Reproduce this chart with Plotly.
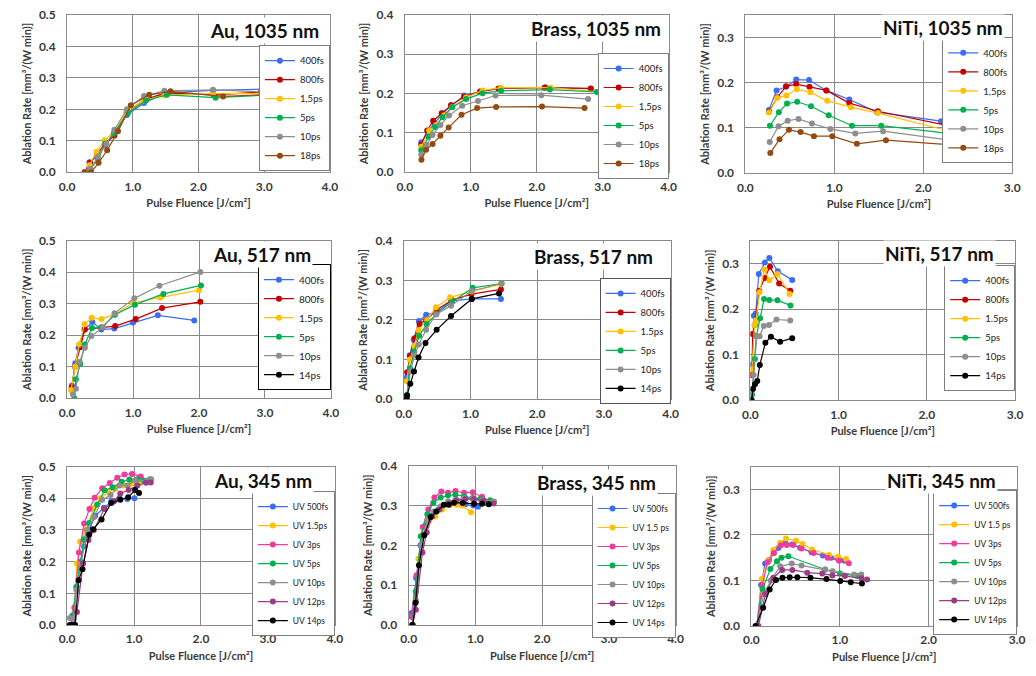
import plotly.graph_objects as go

# ---------------- data ----------------
LABELS_1035 = ["400fs", "800fs", "1,5ps", "5ps", "10ps", "18ps"]
LABELS_517 = ["400fs", "800fs", "1.5ps", "5ps", "10ps", "14ps"]
LABELS_AU345 = ["UV 500fs", "UV 1.5ps", "UV 3ps", "UV 5ps", "UV 10ps", "UV 12ps", "UV 14ps"]
LABELS_345 = ["UV 500fs", "UV 1.5 ps", "UV 3ps", "UV 5ps", "UV 10ps", "UV 12ps", "UV 14ps"]

# Au, 1035 nm
AU1035_X = [
    [0.27, 0.34, 0.46, 0.58, 0.72, 0.91, 1.17, 1.5, 2.22, 2.97],
    [0.27, 0.35, 0.46, 0.58, 0.72, 0.91, 1.17, 1.5, 2.23, 2.95],
    [0.28, 0.34, 0.45, 0.57, 0.72, 0.9, 1.16, 1.48, 2.22, 2.97],
    [0.3, 0.35, 0.47, 0.58, 0.71, 0.93, 1.2, 1.52, 2.26, 3.03],
    [0.3, 0.36, 0.47, 0.6, 0.72, 0.91, 1.17, 1.48, 2.22, 2.97],
    [0.265, 0.365, 0.48, 0.61, 0.775, 0.97, 1.25, 1.575, 2.375, 3.16],
]
AU1035_Y = [
    [0.0, 0.032, 0.05, 0.085, 0.125, 0.182, 0.22, 0.252, 0.26, 0.264],
    [0.0, 0.03, 0.06, 0.09, 0.117, 0.19, 0.23, 0.252, 0.246, 0.255],
    [0.0, 0.022, 0.065, 0.102, 0.13, 0.19, 0.228, 0.245, 0.25, 0.25],
    [0.0, 0.01, 0.04, 0.091, 0.122, 0.19, 0.228, 0.246, 0.237, 0.245],
    [0.0, 0.01, 0.05, 0.09, 0.135, 0.2, 0.242, 0.259, 0.262, 0.255],
    [0.0, 0.0, 0.03, 0.07, 0.13, 0.213, 0.246, 0.257, 0.241, 0.248],
]

# Brass, 1035 nm
BRASS1035_X = [
    [0.25, 0.36, 0.45, 0.58, 0.71, 0.9, 1.15, 1.45, 2.13, 2.82],
    [0.25, 0.34, 0.43, 0.56, 0.7, 0.9, 1.14, 1.42, 2.12, 2.82],
    [0.25, 0.37, 0.48, 0.6, 0.72, 0.93, 1.18, 1.46, 2.21, 2.96],
    [0.25, 0.36, 0.46, 0.57, 0.72, 0.93, 1.18, 1.46, 2.2, 2.91],
    [0.25, 0.33, 0.42, 0.54, 0.67, 0.87, 1.11, 1.375, 2.07, 2.78],
    [0.253, 0.323, 0.422, 0.54, 0.665, 0.86, 1.097, 1.385, 2.08, 2.725],
]
BRASS1035_Y = [
    [0.076, 0.105, 0.125, 0.15, 0.17, 0.195, 0.205, 0.213, 0.216, 0.212],
    [0.07, 0.106, 0.131, 0.15, 0.17, 0.192, 0.205, 0.213, 0.215, 0.213],
    [0.065, 0.106, 0.12, 0.145, 0.165, 0.19, 0.208, 0.215, 0.215, 0.204],
    [0.056, 0.09, 0.115, 0.14, 0.165, 0.186, 0.201, 0.207, 0.21, 0.204],
    [0.045, 0.07, 0.095, 0.12, 0.144, 0.169, 0.181, 0.195, 0.196, 0.186],
    [0.032, 0.057, 0.072, 0.093, 0.114, 0.146, 0.163, 0.166, 0.167, 0.163],
]

# NiTi, 1035 nm
NITI1035_X = [
    [0.265, 0.35, 0.457, 0.571, 0.715, 0.91, 1.168, 1.48, 2.2],
    [0.265, 0.36, 0.457, 0.571, 0.72, 0.91, 1.168, 1.49, 2.24],
    [0.265, 0.357, 0.46, 0.578, 0.73, 0.92, 1.187, 1.49, 2.255],
    [0.276, 0.376, 0.468, 0.582, 0.737, 0.936, 1.198, 1.526, 2.285],
    [0.273, 0.372, 0.475, 0.597, 0.748, 0.955, 1.235, 1.548, 2.337],
    [0.28, 0.383, 0.49, 0.62, 0.77, 0.977, 1.253, 1.58, 2.36],
]
NITI1035_Y = [
    [0.14, 0.183, 0.191, 0.207, 0.206, 0.183, 0.163, 0.135, 0.115],
    [0.136, 0.168, 0.192, 0.197, 0.191, 0.183, 0.155, 0.137, 0.107],
    [0.134, 0.166, 0.172, 0.186, 0.179, 0.16, 0.146, 0.133, 0.095],
    [0.105, 0.135, 0.154, 0.158, 0.148, 0.128, 0.105, 0.105, 0.088],
    [0.069, 0.104, 0.116, 0.12, 0.11, 0.098, 0.088, 0.093, 0.072],
    [0.045, 0.075, 0.096, 0.091, 0.082, 0.082, 0.065, 0.073, 0.062],
]

# Au, 517 nm (the 14ps series has no visible points, only a legend entry)
AU517_X = [
    [0.075, 0.124, 0.174, 0.264, 0.383, 0.52, 0.715, 1.0, 1.376, 1.928],
    [0.07, 0.12, 0.2, 0.27, 0.52, 0.73, 1.04, 1.44, 2.02],
    [0.06, 0.124, 0.184, 0.264, 0.373, 0.522, 0.72, 1.0, 1.416, 2.0],
    [0.11, 0.134, 0.2, 0.268, 0.378, 0.52, 0.725, 1.03, 1.46, 2.03],
    [0.09, 0.134, 0.19, 0.27, 0.368, 0.546, 0.72, 1.02, 1.4, 2.02],
    [None],
]
AU517_Y = [
    [0.04, 0.111, 0.16, 0.218, 0.242, 0.218, 0.221, 0.24, 0.263, 0.247],
    [0.035, 0.1, 0.162, 0.218, 0.224, 0.229, 0.251, 0.286, 0.306],
    [0.026, 0.1, 0.171, 0.235, 0.255, 0.251, 0.266, 0.303, 0.32, 0.343],
    [0.0, 0.06, 0.109, 0.17, 0.223, 0.224, 0.265, 0.297, 0.331, 0.358],
    [0.012, 0.03, 0.115, 0.16, 0.197, 0.225, 0.27, 0.317, 0.357, 0.401],
    [None],
]

# Brass, 517 nm
BRASS517_X = [
    [0.044, 0.089, 0.148, 0.226, 0.335, 0.49, 0.71, 1.02, 1.456],
    [0.05, 0.094, 0.162, 0.236, 0.335, 0.49, 0.72, 1.014, 1.456],
    [0.044, 0.089, 0.16, 0.221, 0.35, 0.482, 0.694, 1.02, 1.456],
    [0.045, 0.093, 0.157, 0.231, 0.344, 0.49, 0.72, 1.033, 1.466],
    [0.045, 0.1, 0.16, 0.226, 0.335, 0.482, 0.708, 1.02, 1.466],
    [0.045, 0.05, 0.098, 0.153, 0.221, 0.325, 0.492, 0.708, 1.02, 1.427],
]
BRASS517_Y = [
    [0.055, 0.111, 0.15, 0.197, 0.213, 0.219, 0.248, 0.253, 0.253],
    [0.068, 0.108, 0.154, 0.19, 0.2, 0.225, 0.25, 0.265, 0.277],
    [0.045, 0.1, 0.135, 0.174, 0.2, 0.232, 0.257, 0.272, 0.29],
    [0.01, 0.078, 0.12, 0.16, 0.19, 0.215, 0.245, 0.281, 0.292],
    [0.005, 0.07, 0.11, 0.138, 0.175, 0.214, 0.236, 0.273, 0.292],
    [0.0, 0.01, 0.039, 0.07, 0.105, 0.142, 0.175, 0.21, 0.253, 0.267],
]

# NiTi, 517 nm
NITI517_X = [
    [0.022, 0.04, 0.06, 0.096, 0.163, 0.215, 0.311, 0.474],
    [0.018, 0.026, 0.05, 0.1, 0.163, 0.222, 0.326, 0.452],
    [0.018, 0.048, 0.065, 0.104, 0.159, 0.215, 0.307, 0.444],
    [0.018, 0.052, 0.067, 0.111, 0.155, 0.215, 0.307, 0.455],
    [0.018, 0.037, 0.074, 0.104, 0.152, 0.211, 0.296, 0.452],
    [0.015, 0.03, 0.052, 0.078, 0.107, 0.17, 0.233, 0.337, 0.474],
]
NITI517_Y = [
    [0.078, 0.185, 0.19, 0.277, 0.302, 0.312, 0.283, 0.264],
    [0.055, 0.145, 0.165, 0.24, 0.268, 0.293, 0.256, 0.24],
    [0.068, 0.165, 0.175, 0.237, 0.287, 0.263, 0.277, 0.233],
    [0.012, 0.09, 0.14, 0.18, 0.222, 0.22, 0.219, 0.208],
    [0.02, 0.055, 0.14, 0.14, 0.163, 0.165, 0.177, 0.175],
    [0.0, 0.025, 0.035, 0.042, 0.077, 0.126, 0.139, 0.128, 0.136],
]

# Au, 345 nm
AU345_X = [
    [0.05, 0.08, 0.14, 0.2, 0.255, 0.33, 0.42, 0.55, 0.66, 0.785, 0.9, 1.006],
    [0.06, 0.11, 0.147, 0.196, 0.28, 0.4, 0.5, 0.62, 0.72, 0.83, 0.95, 1.07],
    [0.06, 0.108, 0.177, 0.255, 0.334, 0.412, 0.525, 0.637, 0.75, 0.858, 0.97, 1.1, 1.2],
    [0.06, 0.14, 0.25, 0.33, 0.45, 0.56, 0.68, 0.815, 0.93, 1.05, 1.15, 1.24],
    [0.04, 0.1, 0.14, 0.2, 0.3, 0.4, 0.525, 0.65, 0.78, 0.9, 1.016, 1.2, 1.256],
    [0.1, 0.147, 0.24, 0.32, 0.4, 0.555, 0.7, 0.795, 0.92, 1.05, 1.18, 1.25],
    [0.04, 0.07, 0.1, 0.12, 0.172, 0.23, 0.33, 0.39, 0.515, 0.66, 0.795, 0.913, 1.016, 1.075],
]
AU345_Y = [
    [0.0, 0.03, 0.12, 0.2, 0.248, 0.3, 0.345, 0.37, 0.39, 0.4, 0.398, 0.4],
    [0.0, 0.04, 0.194, 0.263, 0.3, 0.369, 0.4, 0.42, 0.43, 0.44, 0.445, 0.448],
    [0.0, 0.055, 0.229, 0.32, 0.366, 0.402, 0.432, 0.448, 0.465, 0.475, 0.477, 0.469, 0.455],
    [0.0, 0.12, 0.27, 0.322, 0.38, 0.425, 0.435, 0.452, 0.459, 0.46, 0.455, 0.46],
    [0.022, 0.02, 0.11, 0.18, 0.3, 0.34, 0.395, 0.41, 0.44, 0.44, 0.457, 0.455, 0.46],
    [0.0, 0.041, 0.194, 0.268, 0.3, 0.366, 0.39, 0.415, 0.426, 0.44, 0.449, 0.45],
    [0.0, 0.0, 0.0, 0.0, 0.141, 0.176, 0.285, 0.302, 0.333, 0.385, 0.395, 0.403, 0.426, 0.417],
]

# Brass, 345 nm
BRASS345_X = [
    [0.045, 0.11, 0.176, 0.25, 0.33, 0.45, 0.58, 0.7, 0.85, 0.97, 1.04],
    [0.05, 0.1, 0.145, 0.22, 0.31, 0.4, 0.5, 0.62, 0.72, 0.8, 0.935],
    [0.044, 0.118, 0.21, 0.294, 0.385, 0.49, 0.59, 0.7, 0.83, 0.96, 1.1, 1.274],
    [0.05, 0.105, 0.18, 0.28, 0.37, 0.48, 0.588, 0.7, 0.83, 0.96, 1.07, 1.22],
    [0.05, 0.11, 0.19, 0.28, 0.38, 0.48, 0.59, 0.7, 0.83, 0.96, 1.1, 1.28],
    [0.05, 0.108, 0.206, 0.27, 0.35, 0.46, 0.6, 0.72, 0.85, 0.98, 1.12, 1.27],
    [0.06, 0.103, 0.153, 0.232, 0.33, 0.414, 0.527, 0.6, 0.68, 0.81, 0.98, 1.1, 1.2],
]
BRASS345_Y = [
    [0.03, 0.118, 0.2, 0.25, 0.275, 0.29, 0.305, 0.308, 0.303, 0.3, 0.297],
    [0.0, 0.06, 0.166, 0.23, 0.262, 0.272, 0.29, 0.302, 0.302, 0.3, 0.283],
    [0.02, 0.125, 0.246, 0.29, 0.32, 0.335, 0.332, 0.336, 0.332, 0.333, 0.322, 0.307],
    [0.0, 0.084, 0.223, 0.278, 0.307, 0.32, 0.325, 0.327, 0.323, 0.319, 0.316, 0.313],
    [0.0, 0.06, 0.2, 0.265, 0.285, 0.298, 0.31, 0.314, 0.318, 0.316, 0.313, 0.31],
    [0.0, 0.038, 0.182, 0.232, 0.272, 0.29, 0.305, 0.313, 0.316, 0.316, 0.312, 0.305],
    [0.0, 0.056, 0.15, 0.225, 0.271, 0.285, 0.302, 0.302, 0.307, 0.306, 0.304, 0.304, 0.303],
]

# NiTi, 345 nm
NITI345_X = [
    [0.063, 0.11, 0.155, 0.2, 0.25, 0.304, 0.385, 0.46, 0.55, 0.68, 0.807, 0.9, 0.99, 1.05],
    [0.07, 0.118, 0.185, 0.248, 0.326, 0.39, 0.504, 0.578, 0.685, 0.878, 0.98, 1.07],
    [0.06, 0.122, 0.185, 0.255, 0.333, 0.4, 0.474, 0.567, 0.703, 0.863, 0.99, 1.1],
    [0.07, 0.126, 0.215, 0.289, 0.34, 0.418, 0.833, 1.0, 1.196],
    [0.06, 0.14, 0.22, 0.326, 0.456, 0.567, 0.833, 0.918, 1.159, 1.24],
    [0.08, 0.159, 0.248, 0.348, 0.463, 0.63, 0.8, 0.915, 1.056, 1.244, 1.307],
    [0.048, 0.133, 0.207, 0.278, 0.352, 0.433, 0.519, 0.667, 0.848, 1.003, 1.122, 1.248],
]
NITI345_Y = [
    [0.0, 0.09, 0.137, 0.145, 0.16, 0.171, 0.182, 0.179, 0.172, 0.162, 0.155, 0.15, 0.145, 0.143],
    [0.0, 0.103, 0.143, 0.167, 0.183, 0.192, 0.187, 0.18, 0.168, 0.156, 0.152, 0.147],
    [0.0, 0.09, 0.14, 0.16, 0.177, 0.178, 0.178, 0.17, 0.16, 0.15, 0.143, 0.138],
    [0.0, 0.081, 0.125, 0.142, 0.15, 0.153, 0.124, 0.115, 0.11],
    [0.0, 0.07, 0.1, 0.131, 0.137, 0.133, 0.124, 0.12, 0.113, 0.113],
    [0.0, 0.07, 0.106, 0.123, 0.123, 0.117, 0.115, 0.111, 0.11, 0.105, 0.102],
    [0.0, 0.04, 0.08, 0.101, 0.106, 0.107, 0.107, 0.106, 0.103, 0.099, 0.096, 0.093],
]

TITLES = ["Au, 1035 nm", "Brass, 1035 nm", "NiTi, 1035 nm",
          "Au, 517 nm", "Brass, 517 nm", "NiTi, 517 nm",
          "Au, 345 nm", "Brass, 345 nm", "NiTi, 345 nm"]

# ---------------- styles ----------------
BLUE, RED, YELLOW, GREEN = "#3C6CF2", "#C40000", "#FFC000", "#00B050"
GRAY, BROWN, BLACK = "#8E8E8E", "#944B12", "#000000"
PINK, PURPLE = "#F03A9E", "#9C3B86"
COLORS_1035 = [BLUE, RED, YELLOW, GREEN, GRAY, BROWN]
COLORS_517 = [BLUE, RED, YELLOW, GREEN, GRAY, BLACK]
COLORS_345 = [BLUE, YELLOW, PINK, GREEN, GRAY, PURPLE, BLACK]

W, H = 1036, 676
FONT = "Lato, 'Open Sans', sans-serif"

panels = [
    # data, labels, colors, plot box px (x0,x1,y0,y1), xmax, ymax, title pos (right, cy), legend pos (right, top), legend font, legend border
    (AU1035_X, AU1035_Y, LABELS_1035, COLORS_1035, (60, 327, 7, 168), 4, 0.5, (318, 23), (327, 38), 9.5, "#7f7f7f"),
    (BRASS1035_X, BRASS1035_Y, LABELS_1035, COLORS_1035, (403, 671, 7, 168), 4, 0.4, (665, 21), (671, 46), 9.5, "#7f7f7f"),
    (NITI1035_X, NITI1035_Y, LABELS_1035, COLORS_1035, (749, 1020, 7, 169), 3, 0.35, (1013, 20), (1021, 30), 9.5, "#7f7f7f"),
    (AU517_X, AU517_Y, LABELS_517, COLORS_517, (60, 328, 238, 399), 4, 0.5, (310, 252), (328, 262), 10, "#000000"),
    (BRASS517_X, BRASS517_Y, LABELS_517, COLORS_517, (402, 673, 238, 400), 4, 0.4, (657, 254), (673, 276), 9.5, "#555555"),
    (NITI517_X, NITI517_Y, LABELS_517, COLORS_517, (754, 1023, 238, 401), 3, 0.35, (1003, 251), (1023, 263), 9.5, "#7f7f7f"),
    (AU345_X, AU345_Y, LABELS_AU345, COLORS_345, (60, 332, 469, 631), 4, 0.5, (311, 483), (332, 494), 8.5, "#7f7f7f"),
    (BRASS345_X, BRASS345_Y, LABELS_345, COLORS_345, (407, 678, 468, 631), 4, 0.4, (660, 485), (678, 496), 8.5, "#7f7f7f"),
    (NITI345_X, NITI345_Y, LABELS_345, COLORS_345, (755, 1025, 469, 632), 3, 0.35, (1006, 483), (1025, 493), 8.5, "#7f7f7f"),
]

fig = go.Figure()
layout = dict(
    width=W, height=H, autosize=False,
    margin=dict(l=0, r=0, t=0, b=0),
    paper_bgcolor="white", plot_bgcolor="white",
    font=dict(family=FONT, color="#404040"),
    annotations=[],
)

AX_COLOR = "#8a8a8a"
for i, (xs, ys, labels, colors, box, xmax, ymax, tpos, lpos, lfs, lborder) in enumerate(panels):
    n = i + 1
    sfx = "" if n == 1 else str(n)
    legend_name = "legend" if n == 1 else f"legend{n}"
    for xv, yv, lab, col in zip(xs, ys, labels, colors):
        fig.add_trace(go.Scatter(
            x=xv, y=yv, name=lab, mode="lines+markers",
            line=dict(color=col, width=1.2),
            marker=dict(color=col, size=6),
            xaxis=f"x{sfx}", yaxis=f"y{sfx}",
            legend=legend_name, showlegend=True,
        ))
    x0, x1, y0, y1 = box
    layout[f"xaxis{sfx}"] = dict(
        domain=[x0 / W, x1 / W], anchor=f"y{sfx}",
        range=[0, xmax], dtick=1, tickformat=".1f",
        showgrid=True, gridcolor=AX_COLOR, gridwidth=1,
        showline=True, linecolor=AX_COLOR, linewidth=1, mirror=True,
        zeroline=False, ticks="", ticklabelstandoff=3,
        tickfont=dict(size=12, weight="bold", color="#3a3a3a"),
        title=dict(text="Pulse Fluence [J/cm²]", standoff=6,
                   font=dict(size=11, weight="bold", color="#3a3a3a")),
    )
    layout[f"yaxis{sfx}"] = dict(
        domain=[1 - y1 / H, 1 - y0 / H], anchor=f"x{sfx}",
        range=[0, ymax], dtick=0.1, tickformat=".1f",
        showgrid=True, gridcolor=AX_COLOR, gridwidth=1,
        showline=True, linecolor=AX_COLOR, linewidth=1, mirror=True,
        zeroline=False, ticks="", ticklabelstandoff=8,
        tickfont=dict(size=12, weight="bold", color="#3a3a3a"),
        title=dict(text="Ablation Rate [mm³/(W min)]", standoff=5,
                   font=dict(size=11, weight="bold", color="#3a3a3a")),
    )
    layout[legend_name] = dict(
        x=lpos[0] / W, y=1 - lpos[1] / H, xanchor="right", yanchor="top",
        xref="paper", yref="paper",
        bgcolor="white", bordercolor=lborder, borderwidth=1,
        font=dict(size=lfs, color="#222222", family=FONT),
        itemwidth=30, tracegroupgap=0,
    )
    layout["annotations"].append(dict(
        text=TITLES[i], xref="paper", yref="paper",
        x=tpos[0] / W, y=1 - tpos[1] / H, xanchor="right", yanchor="middle",
        showarrow=False, bgcolor="white",
        font=dict(size=19, weight="bold", color="#111111", family=FONT),
    ))

fig.update_layout(**layout)
fig.write_html("out.html")
